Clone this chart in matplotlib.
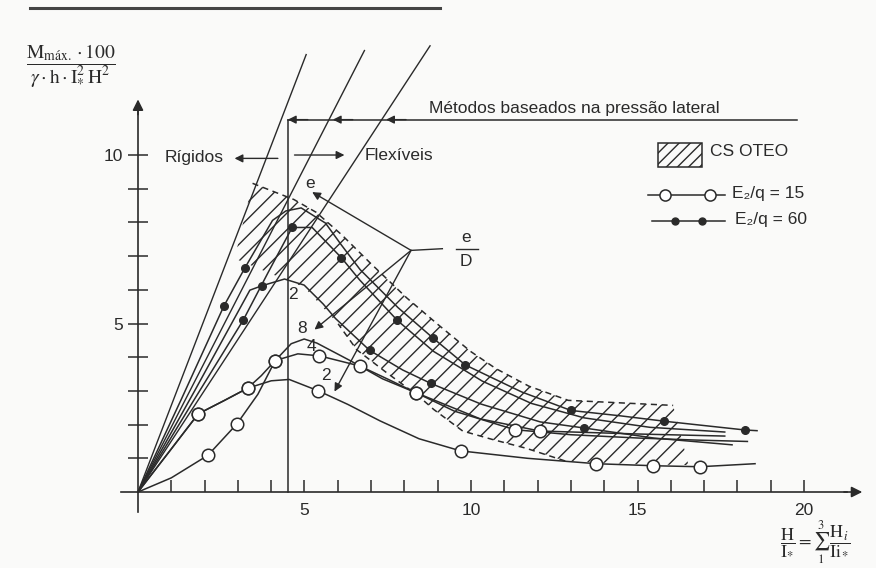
import matplotlib.pyplot as plt
from matplotlib.patches import Polygon, Rectangle
from matplotlib.lines import Line2D

plt.rcParams['font.family'] = ['Liberation Sans', 'DejaVu Sans']
plt.rcParams['mathtext.fontset'] = 'stix'
plt.rcParams['hatch.linewidth'] = 1.0

ink = '#2a2a2a'

# E2/q = 15 (open circles), curves for e/D = 8, 4, 2
o8_x = [0, 1.0, 2.10, 2.97, 3.6, 4.12, 4.6, 4.99, 5.37, 6.37, 7.34, 8.34, 10.28, 12.06, 15.06, 17.62]
o8_y = [0, 0.42, 1.09, 2.02, 2.9, 3.90, 4.4, 4.54, 4.42, 3.9, 3.36, 2.95, 2.17, 1.81, 1.72, 1.66]
o8_mx = [2.10, 2.97, 4.12, 8.34, 12.06]
o8_my = [1.09, 2.02, 3.90, 2.95, 1.81]

o4_x = [0, 0.9, 1.81, 2.6, 3.29, 3.7, 4.12, 4.8, 5.45, 6.66, 7.5, 8.34, 9.5, 11.31, 13.0, 15.06, 16.8, 18.3]
o4_y = [0, 1.15, 2.32, 2.72, 3.08, 3.45, 3.90, 4.1, 4.04, 3.74, 3.35, 2.95, 2.4, 1.85, 1.7, 1.6, 1.54, 1.5]
o4_mx = [1.81, 3.29, 4.12, 5.45, 6.66, 8.34, 11.31]
o4_my = [2.32, 3.08, 3.90, 4.04, 3.74, 2.95, 1.85]

o2_x = [0, 0.9, 1.81, 2.6, 3.29, 4.0, 4.54, 5.42, 6.3, 7.27, 8.44, 9.69, 11.7, 13.76, 15.47, 16.88, 18.53]
o2_y = [0, 1.15, 2.32, 2.72, 3.08, 3.3, 3.34, 3.0, 2.6, 2.11, 1.58, 1.22, 1.0, 0.84, 0.78, 0.75, 0.84]
o2_mx = [1.81, 3.29, 5.42, 9.69, 13.76, 15.47, 16.88]
o2_my = [2.32, 3.08, 3.0, 1.22, 0.84, 0.78, 0.75]

# E2/q = 60 (filled dots), curves for e/D = 8, 4, 2
f8_x = [0, 1.3, 2.58, 3.21, 4.04, 4.44, 4.9, 5.63, 6.1, 6.67, 7.81, 8.87, 9.83, 11.52, 13.0, 14.49, 15.81, 18.23, 18.59]
f8_y = [0, 2.75, 5.52, 6.65, 8.06, 8.34, 8.43, 7.98, 7.34, 6.6, 5.47, 4.56, 3.77, 2.97, 2.42, 2.26, 2.1, 1.84, 1.82]
f8_mx = [2.58, 3.21, 8.87, 9.83, 13.0, 15.81, 18.23]
f8_my = [5.52, 6.65, 4.56, 3.77, 2.42, 2.1, 1.84]

f4_x = [0, 1.6, 3.16, 3.9, 4.63, 5.23, 6.11, 6.65, 7.79, 8.88, 10.34, 11.81, 13.4, 15.37, 17.62]
f4_y = [0, 2.6, 5.10, 6.5, 7.85, 7.85, 6.95, 6.3, 5.09, 4.17, 3.29, 2.63, 2.2, 1.92, 1.78]
f4_mx = [3.16, 4.63, 6.11, 7.79]
f4_my = [5.10, 7.85, 6.95, 5.09]

f2_x = [0, 1.7, 3.36, 3.72, 4.4, 4.99, 5.56, 5.93, 6.96, 7.95, 8.8, 10.3, 12.08, 13.39, 15.5, 17.84]
f2_y = [0, 3.0, 5.99, 6.12, 6.32, 6.14, 5.58, 5.15, 4.2, 3.62, 3.22, 2.61, 2.08, 1.9, 1.6, 1.4]
f2_mx = [3.72, 6.96, 8.8, 13.39]
f2_my = [6.12, 4.2, 3.22, 1.9]

# straight lines from the origin (rigid walls)
rig_x = [5.05, 6.80, 8.77]
rig_y = [12.98, 13.1, 13.24]
x_limit = 4.5

# CS OTEO band
band_top_x = [3.44, 4.68, 5.35, 6.12, 6.98, 8.07, 9.02, 9.99, 10.75, 11.74, 12.92, 16.07]
band_top_y = [9.16, 8.68, 8.3, 7.63, 6.79, 5.76, 4.96, 4.17, 3.66, 3.14, 2.72, 2.57]
band_low_x = [16.53, 15.02, 12.83, 11.65, 10.64, 9.75, 8.88, 8.42, 7.44, 6.57, 6.01, 4.99, 3.96, 2.9]
band_low_y = [0.8, 0.82, 0.92, 1.3, 1.56, 1.81, 2.45, 2.85, 3.56, 4.22, 4.99, 6.08, 6.49, 6.93]

fig = plt.figure(figsize=(8.76, 5.68), dpi=100, facecolor='#fafaf9')
ax = fig.add_axes([0, 0, 1, 1])
ax.set_facecolor('#fafaf9')
ax.set_xlim(-4.144, 22.162)
ax.set_ylim(-2.255, 14.6)

# hatched band
band = Polygon(list(zip(band_top_x + band_low_x, band_top_y + band_low_y)), closed=True,
               fill=False, hatch='//', edgecolor=ink, lw=0, zorder=1)
ax.add_patch(band)
ax.plot(band_top_x, band_top_y, color=ink, lw=1.1, ls=(0, (4, 3)), zorder=2)
ax.plot(band_low_x[2:11], band_low_y[2:11], color=ink, lw=1.1, ls=(0, (4, 3)), zorder=2)

for tx, ty in zip(rig_x, rig_y):
    ax.plot([0, tx], [0, ty], color=ink, lw=1.0, zorder=2)
ax.plot([x_limit, x_limit], [0, 11.05], color=ink, lw=1.1, zorder=2)

for cx, cy in [(o8_x, o8_y), (o4_x, o4_y), (o2_x, o2_y), (f8_x, f8_y), (f4_x, f4_y), (f2_x, f2_y)]:
    ax.plot(cx, cy, color=ink, lw=1.1, zorder=3)
for mx, my in [(o8_mx, o8_my), (o4_mx, o4_my), (o2_mx, o2_my)]:
    ax.plot(mx, my, 'o', ms=9, mfc='white', mec=ink, mew=1.1, zorder=4)
for mx, my in [(f8_mx, f8_my), (f4_mx, f4_my), (f2_mx, f2_my)]:
    ax.plot(mx, my, 'o', ms=5.5, color=ink, zorder=4)

# axes with arrows
for side in ['top', 'right']:
    ax.spines[side].set_visible(False)
ax.spines['left'].set_position(('data', 0))
ax.spines['bottom'].set_position(('data', 0))
ax.spines['left'].set_bounds(-0.6, 11.3)
ax.spines['bottom'].set_bounds(-0.5, 21.3)
for side in ['left', 'bottom']:
    ax.spines[side].set_color(ink)
    ax.spines[side].set_linewidth(1.2)
arrow = dict(arrowstyle='-|>', color=ink, lw=1.2, mutation_scale=16, shrinkA=0, shrinkB=0)
ax.annotate('', xy=(21.75, 0), xytext=(21.2, 0), arrowprops=arrow)
ax.annotate('', xy=(0, 11.65), xytext=(0, 11.2), arrowprops=arrow)

ax.set_xticks(range(1, 21))
ax.set_xticklabels([str(i) if i % 5 == 0 else '' for i in range(1, 21)])
ax.set_yticks(range(1, 11))
ax.set_yticklabels([str(i) if i % 5 == 0 else '' for i in range(1, 11)])
ax.tick_params(axis='x', direction='in', length=9, width=1.1, color=ink, labelsize=12.5,
               labelcolor=ink, pad=8)
ax.tick_params(axis='y', direction='inout', length=14, width=1.1, color=ink, labelsize=12.5,
               labelcolor=ink, pad=4)

# annotations
small = dict(arrowstyle='-|>', color=ink, lw=1.0, mutation_scale=12, shrinkA=0, shrinkB=0)
ax.text(0.8, 9.93, 'Rígidos', fontsize=12.5, color=ink, va='center')
ax.annotate('', xy=(2.9, 9.9), xytext=(4.2, 9.9), arrowprops=small)
ax.text(6.8, 10.0, 'Flexíveis', fontsize=12.5, color=ink, va='center')
ax.annotate('', xy=(6.2, 10.0), xytext=(4.7, 10.0), arrowprops=small)

ax.plot([4.5, 19.8], [11.05, 11.05], color=ink, lw=1.1)
for xa in [4.5, 5.85, 7.45]:
    ax.annotate('', xy=(xa, 11.05), xytext=(xa + 0.6, 11.05), arrowprops=small)
ax.text(8.75, 11.15, 'Métodos baseados na pressão lateral', fontsize=12.5, color=ink, va='bottom')

node = (8.2, 7.17)
ax.annotate('', xy=(5.23, 8.9), xytext=node, arrowprops=small)
ax.annotate('', xy=(5.3, 4.82), xytext=node, arrowprops=small)
ax.annotate('', xy=(5.9, 2.98), xytext=node, arrowprops=small)
ax.plot([node[0], 9.14], [node[1], 7.22], color=ink, lw=1.0)
ax.text(5.18, 9.16, 'e', fontsize=12.5, color=ink, ha='center', va='center')
ax.text(9.86, 7.56, 'e', fontsize=12.5, color=ink, ha='center', va='center')
ax.plot([9.55, 10.2], [7.21, 7.21], color=ink, lw=1.0)
ax.text(9.86, 6.84, 'D', fontsize=12.5, color=ink, ha='center', va='center')

ax.text(4.92, 4.86, '8', fontsize=12.5, color=ink, ha='center', va='center')
ax.text(5.2, 4.33, '4', fontsize=12.5, color=ink, ha='center', va='center')
ax.text(5.65, 3.45, '2', fontsize=12.5, color=ink, ha='center', va='center')
ax.text(4.64, 5.86, '2', fontsize=12.5, color=ink, ha='center', va='center')

# legend
ax.add_patch(Rectangle((0.751, 0.706), 0.050, 0.042, transform=ax.transAxes, fill=False,
                       hatch='///', edgecolor=ink, lw=1.1))
ax.text(0.811, 0.733, 'CS OTEO', transform=ax.transAxes, fontsize=12.5, color=ink, va='center')
ax.plot([0.740, 0.828], [0.657, 0.657], transform=ax.transAxes, color=ink, lw=1.1)
ax.plot([0.759, 0.811], [0.657, 0.657], 'o', transform=ax.transAxes, ms=8, mfc='white', mec=ink, mew=1.1)
ax.text(0.836, 0.659, 'E₂/q = 15', transform=ax.transAxes, fontsize=12.5, color=ink, va='center')
ax.plot([0.744, 0.828], [0.611, 0.611], transform=ax.transAxes, color=ink, lw=1.1)
ax.plot([0.771, 0.801], [0.611, 0.611], 'o', transform=ax.transAxes, ms=5, color=ink)
ax.text(0.839, 0.613, 'E₂/q = 60', transform=ax.transAxes, fontsize=12.5, color=ink, va='center')

# axis titles
fig.text(0.081, 0.885,
         r'$\dfrac{\mathrm{M}_{\mathrm{máx.}}\cdot 100}{\gamma\cdot \mathrm{h}\cdot \mathrm{I}_{*}^{2}\,\mathrm{H}^{2}}$',
         fontsize=14, color=ink, ha='center', va='center')
fig.text(0.93, 0.046,
         r'$\dfrac{\mathrm{H}}{\mathrm{I}_{*}} = \sum_{1}^{3}\,\dfrac{\mathrm{H}_{i}}{\mathrm{Ii}_{*}}$',
         fontsize=13, color=ink, ha='center', va='center')

fig.add_artist(Line2D([0.034, 0.502], [0.986, 0.986], color='#444444', lw=2.2))

fig.savefig('out.png', dpi=100, facecolor=fig.get_facecolor())
